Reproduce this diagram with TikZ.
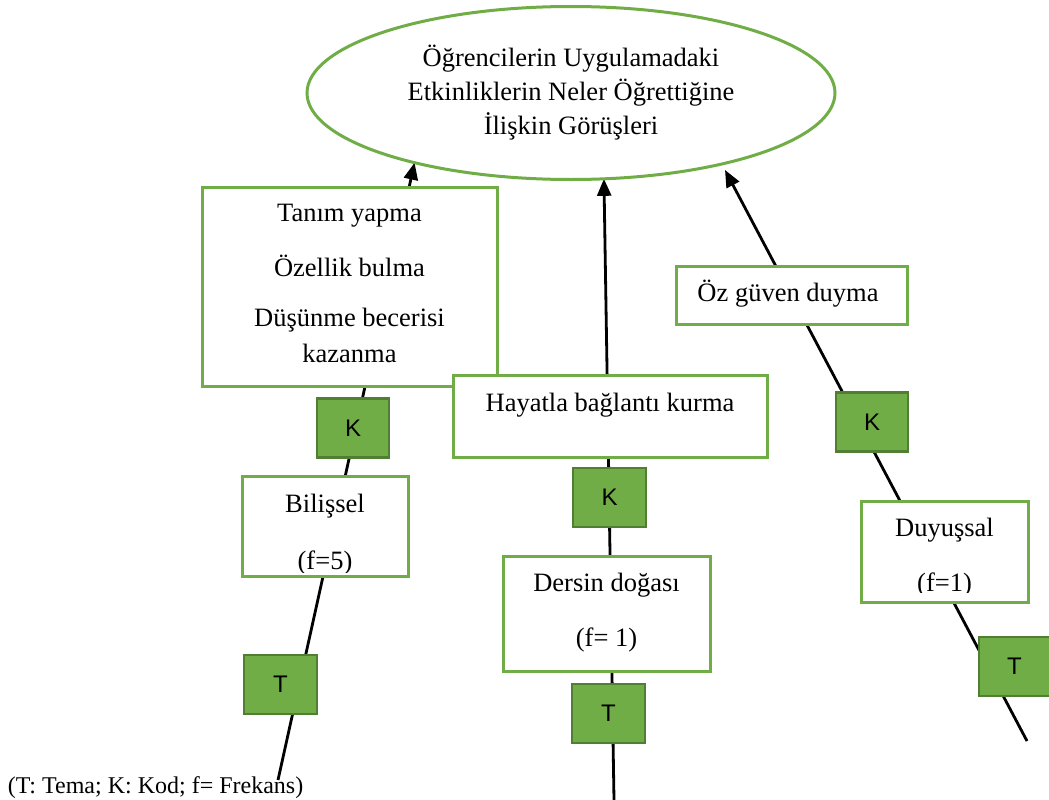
\documentclass[tikz,border=0pt]{standalone}
\usepackage{fontspec}
\setmainfont{Liberation Serif}
\newfontfamily\labelsans{Liberation Sans}
\usetikzlibrary{arrows.meta,backgrounds,shapes.geometric}
\definecolor{leaf}{RGB}{112,173,71}
\definecolor{leafdark}{RGB}{80,126,50}

\begin{document}
\begin{tikzpicture}[x=1pt,y=-1pt,
  every node/.style={inner sep=0pt, outer sep=0pt},
  theme/.style={ellipse, draw=leaf, line width=3pt, fill=white,
    minimum width=528pt, minimum height=173pt, align=center,
    font=\fontsize{26.5}{34}\selectfont},
  codebox/.style={rectangle, draw=leaf, line width=3pt, fill=white},
  tag/.style={rectangle, draw=leafdark, line width=2.2pt, fill=leaf,
    minimum width=72pt, minimum height=59pt,
    font=\labelsans\fontsize{24}{24}\selectfont},
  txt/.style={anchor=base, font=\fontsize{26.5}{30}\selectfont},
  link/.style={line width=2.8pt, black},
  head/.style={-{Triangle[length=17pt,width=14pt]}}
]
\useasboundingbox (0,0) rectangle (1049,800);

% central theme
\node[theme] (E) at (571,93)
  {Öğrencilerin Uygulamadaki\\Etkinliklerin Neler Öğrettiğine\\İlişkin Görüşleri};

% left chain: cognitive
\node[codebox, minimum width=295pt, minimum height=199pt] (box1) at (349.5,286.5) {};
\node[txt] (box1a) at (349.5,221.7) {Tanım yapma};
\node[txt] (box1b) at (349.5,276.7) {Özellik bulma};
\node[txt] (box1c) at (349.5,326.7) {Düşünme becerisi};
\node[txt] (box1d) at (349.5,362.5) {kazanma};
\node[tag] (K1) at (353,428) {K};
\node[codebox, minimum width=166pt, minimum height=100pt] (bil) at (325,526) {};
\node[txt] (bilA) at (325,512) {Bilişsel};
\begin{scope}
  \clip (243,477) rectangle (407,572);
  \node[txt] (bilB) at (325,569) {(f=5)};
\end{scope}
\node[tag, minimum width=73pt] (T1) at (280.5,684.5) {T};

% middle chain: nature of the course
\node[codebox, minimum width=314pt, minimum height=82pt] (hay) at (610,416) {};
\node[txt] (hayA) at (610,411.7) {Hayatla bağlantı kurma};
\node[tag, minimum width=73pt] (K2) at (609.5,497.5) {K};
\node[codebox, minimum width=207pt, minimum height=115pt] (ders) at (606.5,613.5) {};
\node[txt] (dersA) at (606.5,591.7) {Dersin doğası};
\node[txt] (dersB) at (606.5,646) {(f= 1)};
\node[tag, minimum width=73pt] (T2) at (608.5,713.5) {T};

% right chain: affective
\node[codebox, minimum width=231pt, minimum height=58pt] (oz) at (791.5,295) {};
\node[txt] (ozA) at (788,301.7) {Öz güven duyma};
\node[tag] (K3) at (872,422) {K};
\node[codebox, minimum width=167pt, minimum height=101pt] (duy) at (944.5,551.5) {};
\node[txt] (duyA) at (944.5,536.7) {Duyuşsal};
\begin{scope}
  \clip (862,502) rectangle (1027,592);
  \node[txt] (duyB) at (944.5,591) {(f=1)};
\end{scope}
\node[tag, minimum width=71pt] (T3) at (1014.5,666.5) {T};

% legend
\node[anchor=base west, font=\fontsize{24}{24}\selectfont] (legend) at (8,793)
  {(T: Tema; K: Kod; f= Frekans)};

% connectors run behind the boxes
\coordinate (Lfoot) at (278,780);
\coordinate (Mfoot) at (614,800);
\coordinate (Rfoot) at (1027,741);
\coordinate (Rhead) at (725,170);
\begin{pgfonlayer}{background}
  \draw[link, head] (Lfoot) -- (E.204);
  \draw[link, head] (Mfoot) -- (E.291);
  \draw[link, head] (Rfoot) -- (Rhead);
\end{pgfonlayer}
\end{tikzpicture}
\end{document}
